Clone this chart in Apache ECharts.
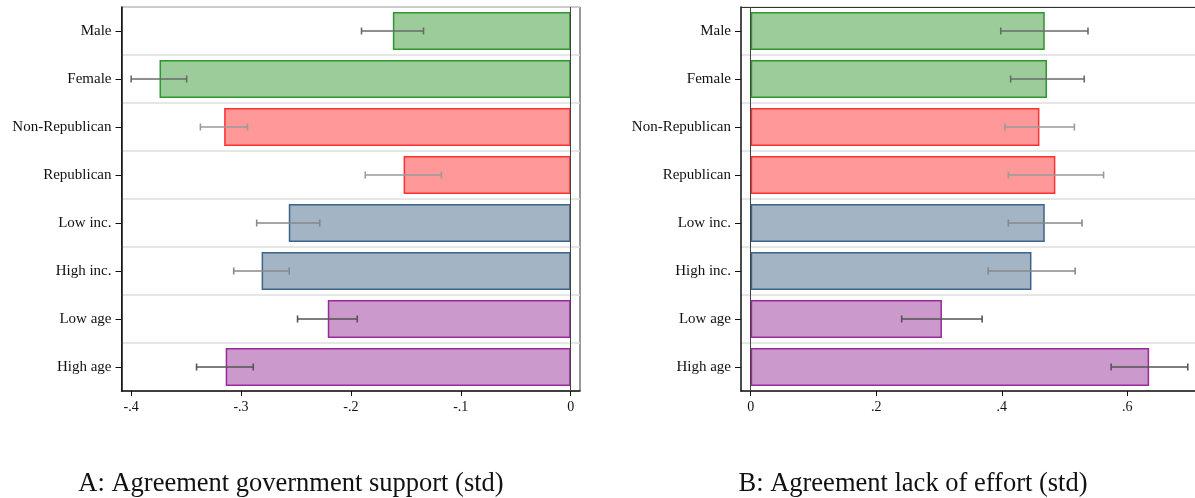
<!DOCTYPE html>
<html>
<head>
<meta charset="utf-8">
<script src="https://cdn.jsdelivr.net/npm/echarts@6/dist/echarts.min.js"></script>
<style>
html,body{margin:0;padding:0;background:#fff;}
#chart{width:1195px;height:498px;}
</style>
</head>
<body>
<div id="chart"></div>
<script>
// ---------- data ----------
const categories = ['Male', 'Female', 'Non-Republican', 'Republican', 'Low inc.', 'High inc.', 'Low age', 'High age'];
const valuesA = [-0.1618, -0.3741, -0.3153, -0.152, -0.2565, -0.2812, -0.221, -0.3139];
const ciLowA  = [-0.1903, -0.3999, -0.3369, -0.1869, -0.2857, -0.3066, -0.2485, -0.3404];
const ciHighA = [-0.1339, -0.3494, -0.2941, -0.1176, -0.2283, -0.2561, -0.1942, -0.2888];
const valuesB = [0.4685, 0.4721, 0.46, 0.4854, 0.4685, 0.4473, 0.3047, 0.6348];
const ciLowB  = [0.3984, 0.4141, 0.405, 0.4105, 0.4105, 0.3784, 0.2406, 0.5743];
const ciHighB = [0.5374, 0.5314, 0.5157, 0.5622, 0.5278, 0.5169, 0.3687, 0.6963];
const ticksA = [-0.4, -0.3, -0.2, -0.1, 0];
const ticksB = [0, 0.2, 0.4, 0.6];
const titleA = 'A: Agreement government support (std)';
const titleB = 'B: Agreement lack of effort (std)';

// ---------- styling ----------
const fills   = ['#9ccc9a', '#9ccc9a', '#ff9999', '#ff9999', '#a3b4c5', '#a3b4c5', '#cc99cc', '#cc99cc'];
const borders = ['#2e962e', '#2e962e', '#ff3030', '#ff3030', '#3d6488', '#3d6488', '#9a2a9a', '#9a2a9a'];
const errColors = ['#6a6a6a', '#6a6a6a', '#9a9a9a', '#9a9a9a', '#888888', '#888888', '#555555', '#555555'];
const FONT = '"Liberation Serif", "DejaVu Serif", serif';

function fmt(v) {
  if (Math.abs(v) < 1e-9) return '0';
  const s = String(Math.round(Math.abs(v) * 10) / 10).replace(/^0/, '');
  return (v < 0 ? '-' : '') + s;
}

function barData(vals) {
  return vals.map((v, i) => ({
    value: v,
    itemStyle: { color: fills[i], borderColor: borders[i], borderWidth: 1.5 }
  }));
}
function errData(lo, hi) {
  return categories.map((c, i) => [i, lo[i], hi[i]]);
}

function errRender(params, api) {
  const idx = api.value(0);
  const p1 = api.coord([api.value(1), idx]);
  const p2 = api.coord([api.value(2), idx]);
  const h = 3.5;
  const style = { stroke: errColors[idx], lineWidth: 1.6 };
  return {
    type: 'group',
    children: [
      { type: 'line', shape: { x1: p1[0], y1: p1[1], x2: p2[0], y2: p2[1] }, style },
      { type: 'line', shape: { x1: p1[0], y1: p1[1] - h, x2: p1[0], y2: p1[1] + h }, style },
      { type: 'line', shape: { x1: p2[0], y1: p2[1] - h, x2: p2[0], y2: p2[1] + h }, style }
    ]
  };
}

function xAxisCfg(gridIndex, min, max, ticks) {
  return {
    type: 'value', gridIndex, min, max,
    axisLine: { show: true, onZero: false, lineStyle: { color: '#111', width: 1.5 } },
    axisTick: { show: true, length: 5, customValues: ticks, lineStyle: { color: '#111', width: 1 } },
    axisLabel: { customValues: ticks, formatter: fmt, margin: 9, color: '#111', fontFamily: FONT, fontSize: 14 },
    splitLine: { show: false }
  };
}
function topAxisCfg(gridIndex, min, max) {
  return {
    type: 'value', gridIndex, min, max, position: 'top',
    axisLine: { show: true, onZero: false, lineStyle: { color: '#333', width: 1 } },
    axisTick: { show: false }, axisLabel: { show: false }, splitLine: { show: false }
  };
}
function yAxisCfg(gridIndex) {
  return {
    type: 'category', gridIndex, data: categories, inverse: true,
    axisLine: { show: true, onZero: false, lineStyle: { color: '#111', width: 1.5 } },
    axisTick: { show: true, alignWithLabel: true, length: 6, lineStyle: { color: '#111', width: 1 } },
    axisLabel: { margin: 10, color: '#111', fontFamily: FONT, fontSize: 15 },
    splitLine: { show: true, lineStyle: { color: '#dedede', width: 1.5 } }
  };
}

const zeroLine = {
  silent: true, symbol: 'none', label: { show: false },
  lineStyle: { color: '#444', width: 1, type: 'solid' },
  data: [{ xAxis: 0 }]
};

const chart = echarts.init(document.getElementById('chart'), null, { renderer: 'canvas' });
chart.setOption({
  animation: false,
  backgroundColor: '#fff',
  grid: [
    { left: 121.5, right: 615, top: 7, height: 384, show: true, borderColor: '#333', borderWidth: 1, containLabel: false, outerBoundsMode: 'none' },
    { left: 741, right: -10, top: 7, height: 384, show: false, containLabel: false, outerBoundsMode: 'none' }
  ],
  xAxis: [
    xAxisCfg(0, -0.4087, 0.0085, ticksA),
    xAxisCfg(1, -0.01545, 0.7238, ticksB),
    topAxisCfg(1, -0.01545, 0.7238)
  ],
  yAxis: [yAxisCfg(0), yAxisCfg(1)],
  series: [
    { type: 'bar', xAxisIndex: 0, yAxisIndex: 0, data: barData(valuesA), barCategoryGap: '21%', markLine: zeroLine, z: 2 },
    { type: 'custom', xAxisIndex: 0, yAxisIndex: 0, data: errData(ciLowA, ciHighA), renderItem: errRender, z: 5 },
    { type: 'bar', xAxisIndex: 1, yAxisIndex: 1, data: barData(valuesB), barCategoryGap: '21%', markLine: zeroLine, z: 2 },
    { type: 'custom', xAxisIndex: 1, yAxisIndex: 1, data: errData(ciLowB, ciHighB), renderItem: errRender, z: 5 }
  ],
  graphic: [
    { type: 'text', x: 291, y: 484, style: { text: titleA, fill: '#111', font: '26.5px ' + FONT, textAlign: 'center', textVerticalAlign: 'middle' } },
    { type: 'text', x: 913, y: 484, style: { text: titleB, fill: '#111', font: '26.5px ' + FONT, textAlign: 'center', textVerticalAlign: 'middle' } }
  ]
});
</script>
</body>
</html>
